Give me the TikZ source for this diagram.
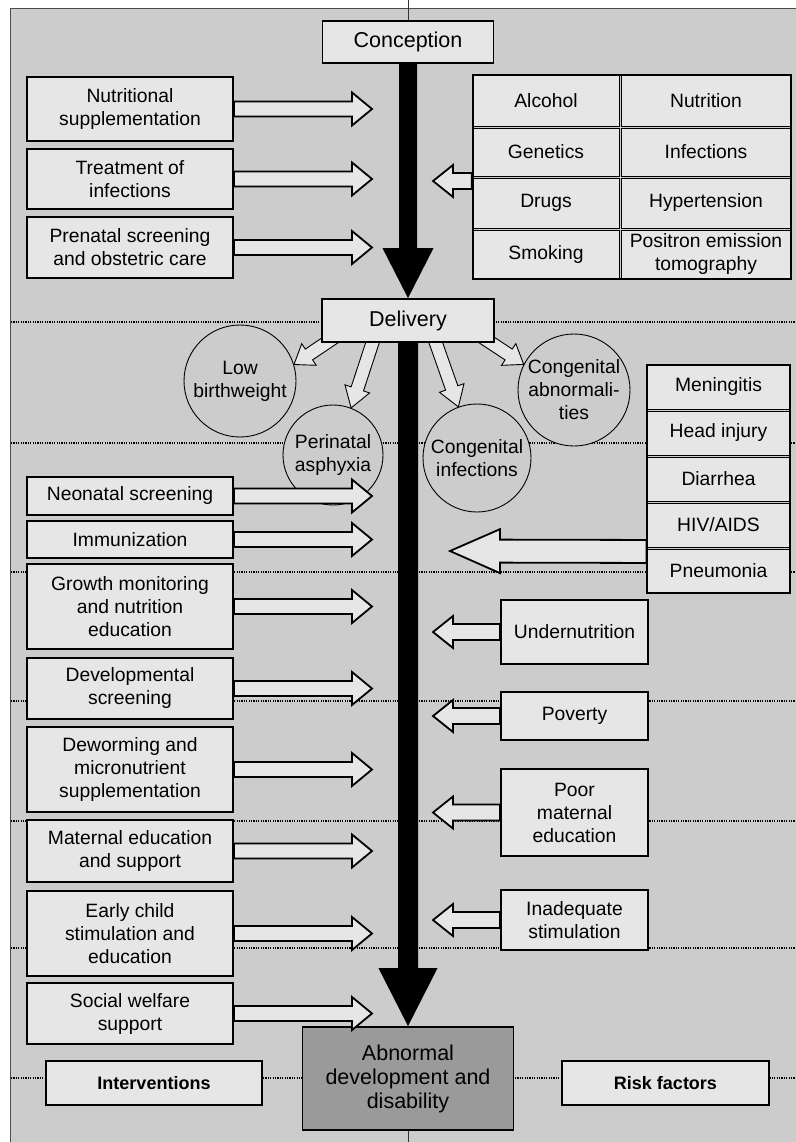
\documentclass[tikz,border=0pt]{standalone}
\usepackage{fontspec}
\setmainfont{Liberation Sans}
\usetikzlibrary{calc}
\pgfdeclarelayer{back}
\pgfdeclarelayer{mid}
\pgfsetlayers{back,mid,main}
\definecolor{bggray}{HTML}{CCCCCC}
\definecolor{boxgray}{HTML}{E6E6E6}
\definecolor{darkbox}{HTML}{9A9A9A}
% hollow block arrow: [style]{start}{tip}{shaft half}{head half}{head length}
\newcommand{\harrow}[6][]{%
  \coordinate (hA) at (#2);
  \coordinate (hB) at (#3);
  \coordinate (hH) at ($(hB)!#6!(hA)$);
  \draw[#1] ($(hA)!#4!90:(hB)$) -- ($(hH)!#4!90:(hB)$) -- ($(hH)!#5!90:(hB)$) -- (hB)
    -- ($(hH)!#5!-90:(hB)$) -- ($(hH)!#4!-90:(hB)$) -- ($(hA)!#4!-90:(hB)$) -- cycle;
}
\begin{document}
\begin{tikzpicture}[x=1pt,y=-1pt,
  txt/.style={font=\fontsize{19.3}{23}\selectfont},
  box/.style={txt, draw=black, line width=1.8pt, fill=boxgray, inner sep=0pt, align=center},
  bigbox/.style={box, font=\fontsize{21.5}{24}\selectfont},
  labbox/.style={box, line width=2.2pt, font=\fontsize{18}{21}\selectfont\bfseries},
  cell/.style={txt, draw=black, line width=0.9pt, fill=boxgray, inner sep=0pt, align=center},
  frame/.style={draw=black, line width=2.6pt, fill=none, inner sep=0pt},
  circ/.style={txt, circle, draw=black, line width=0.9pt, fill=bggray, inner sep=0pt, align=center},
  harr/.style={draw=black, line width=1.8pt, fill=boxgray, line join=miter},
  tharr/.style={draw=black, line width=0.9pt, fill=boxgray, line join=miter},
  blk/.style={fill=black, draw=none},
  dots/.style={line width=1.2pt, dash pattern=on 1.1pt off 1.3pt, black},
]
\useasboundingbox (0,0) rectangle (795,1142);

% ---------- nodes ----------
\node[bigbox, minimum width=171, minimum height=42] (conc) at (408,42) {Conception};
\node[bigbox, minimum width=172, minimum height=43] (deliv) at (408,320.5) {Delivery};
\node[bigbox, fill=darkbox, minimum width=211, minimum height=103] (abn) at (408,1078.5) {Abnormal\\development and\\disability};

% interventions
\node[box, minimum width=206, minimum height=64] (nut) at (130,109) {Nutritional\\supplementation};
\node[box, minimum width=206, minimum height=60] (treat) at (130,179) {Treatment of\\infections};
\node[box, minimum width=206, minimum height=61] (pren) at (130,247.5) {Prenatal screening\\and obstetric care};
\node[box, minimum width=206, minimum height=38] (neo) at (130,496) {Neonatal screening};
\node[box, minimum width=206, minimum height=37] (imm) at (130,539.5) {Immunization};
\node[box, minimum width=206, minimum height=85] (grow) at (130,606.5) {Growth monitoring\\and nutrition\\education};
\node[box, minimum width=206, minimum height=61] (devs) at (130,688.5) {Developmental\\screening};
\node[box, minimum width=206, minimum height=85] (dewo) at (130,769.5) {Deworming and\\micronutrient\\supplementation};
\node[box, minimum width=206, minimum height=62] (mate) at (130,851) {Maternal education\\and support};
\node[box, minimum width=206, minimum height=85] (earl) at (130,933.5) {Early child\\stimulation and\\education};
\node[box, minimum width=206, minimum height=61] (soci) at (130,1013.5) {Social welfare\\support};
\node[labbox, minimum width=216, minimum height=44] (interv) at (154,1083) {Interventions};

% risk factor grid
\node[cell, minimum width=146, minimum height=51] (g11) at (546,100.5) {Alcohol};
\node[cell, minimum width=170, minimum height=51] (g12) at (706,100.5) {Nutrition};
\node[cell, minimum width=146, minimum height=48] (g21) at (546,152) {Genetics};
\node[cell, minimum width=170, minimum height=48] (g22) at (706,152) {Infections};
\node[cell, minimum width=146, minimum height=50] (g31) at (546,203) {Drugs};
\node[cell, minimum width=170, minimum height=50] (g32) at (706,203) {Hypertension};
\node[cell, minimum width=146, minimum height=49] (g41) at (546,254.5) {Smoking};
\node[cell, minimum width=170, minimum height=49] (g42) at (706,254.5) {Positron emission\\tomography};
\node[frame, minimum width=318, minimum height=204] (grid) at (632,177) {};

% postnatal risk column
\node[cell, minimum width=143, minimum height=44] (m1) at (718.5,387) {Meningitis};
\node[cell, minimum width=143, minimum height=44] (m2) at (718.5,433) {Head injury};
\node[cell, minimum width=143, minimum height=44] (m3) at (718.5,479) {Diarrhea};
\node[cell, minimum width=143, minimum height=44] (m4) at (718.5,525) {HIV/AIDS};
\node[cell, minimum width=143, minimum height=44] (m5) at (718.5,571) {Pneumonia};
\node[frame, minimum width=143, minimum height=228] (mcol) at (718.5,479) {};

% right risk boxes
\node[box, minimum width=147, minimum height=64] (under) at (574.5,632) {Undernutrition};
\node[box, minimum width=147, minimum height=48] (pov) at (574.5,716) {Poverty};
\node[box, minimum width=147, minimum height=87] (poor) at (574.5,812.5) {Poor\\maternal\\education};
\node[box, minimum width=147, minimum height=60] (inad) at (574.5,920) {Inadequate\\stimulation};
\node[labbox, minimum width=207, minimum height=44] (risk) at (665.5,1083) {Risk factors};

% birth outcome circles
\node[circ, minimum size=112] (lbw) at (240,381) {Low\\birthweight};
\node[circ, minimum size=100] (peri) at (333,455) {Perinatal\\asphyxia};
\node[circ, minimum size=108] (cinf) at (477,458) {Congenital\\infections};
\node[circ, minimum size=112] (cabn) at (574,390) {Congenital\\abnormali-\\ties};

% ---------- background ----------
\begin{pgfonlayer}{back}
  \fill[bggray, draw=black!70, line width=1pt] (10,9) rectangle (805,1150);
  \foreach \yy in {322,443,572,701,821,948,1078}
    \draw[dots] (11,\yy) -- (795,\yy);
  \draw[black!80, line width=1pt] (408,0) -- (conc.north);
  \draw[black!80, line width=1pt] (abn.south) -- (408,1142);
\end{pgfonlayer}

% ---------- main flow and delivery arrows ----------
\begin{pgfonlayer}{mid}
  \harrow[blk]{conc.south}{deliv.north}{9pt}{25.5pt}{50pt}
  \harrow[blk]{deliv.south}{abn.north}{10pt}{29.5pt}{58pt}
  \coordinate (s1) at (344,331);
  \coordinate (s2) at (376,332);
  \coordinate (s3) at (432,332);
  \coordinate (s4) at (476,333);
  \harrow[tharr]{s1}{lbw.17}{6.5pt}{13pt}{18pt}
  \harrow[tharr]{s2}{peri.69}{6.5pt}{13pt}{20pt}
  \harrow[tharr]{s3}{cinf.110}{6.5pt}{13pt}{20pt}
  \harrow[tharr]{s4}{cabn.153}{6.5pt}{13pt}{18pt}
\end{pgfonlayer}

% ---------- intervention arrows ----------
\coordinate (tipL) at (372,0);
\foreach \n in {nut,treat,pren,neo,imm,grow,devs,dewo,mate,earl,soci}
  {\harrow[harr]{\n.east}{\n.east -| tipL}{7.5pt}{16.5pt}{20pt}}

% ---------- risk arrows ----------
\coordinate (tipR) at (433,0);
\foreach \n in {under,pov,poor,inad}
  {\harrow[harr]{\n.west}{\n.west -| tipR}{8pt}{16pt}{20pt}}
\coordinate (gstart) at ([yshift=-4pt]grid.west);
\harrow[harr]{gstart}{gstart -| tipR}{8pt}{16pt}{20pt}
\coordinate (mstart) at ([yshift=-4pt]m4.south west);
\coordinate (mtip) at (450,551);
\harrow[harr]{mstart}{mtip}{11.5pt}{22pt}{50pt}
\end{tikzpicture}
\end{document}
